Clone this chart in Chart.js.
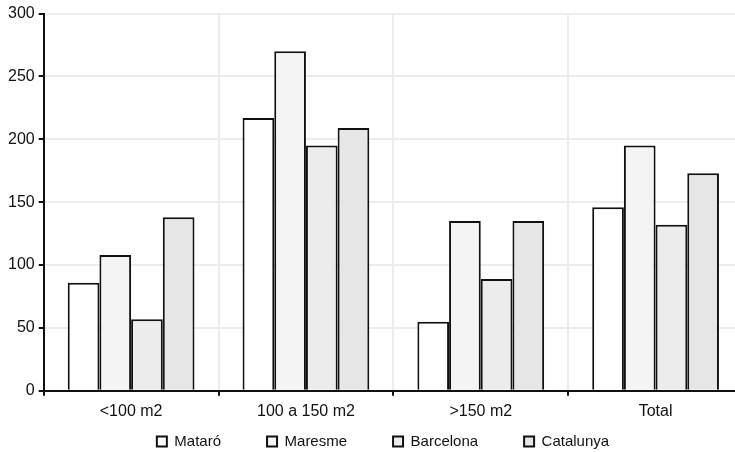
<!DOCTYPE html>
<html>
<head>
<meta charset="utf-8">
<script src="https://cdn.jsdelivr.net/npm/chart.js@4"></script>
<style>
  html, body { margin: 0; padding: 0; background: #fff; overflow: hidden; }
  #wrap { width: 735px; height: 452px; overflow: hidden; }
</style>
</head>
<body>
<div id="wrap"><canvas id="myChart" width="743" height="452"></canvas></div>
<script>
// categories and series
const categories = ['<100 m2', '100 a 150 m2', '>150 m2', 'Total'];
const mataro = [86, 217, 55, 146];
const maresme = [108, 270, 135, 195];
const barcelona = [57, 195, 89, 132];
const catalunya = [138, 209, 135, 173];
const yTicks = [0, 50, 100, 150, 200, 250, 300];

Chart.defaults.font.family = '"Liberation Sans Narrow", "Liberation Sans", Arial, sans-serif';
Chart.defaults.font.size = 16;
Chart.defaults.color = '#111';

function makeSet(label, data, fill) {
    return {
        label: label,
        data: data,
        backgroundColor: fill,
        borderColor: '#111',
        borderWidth: 2,
        borderSkipped: 'bottom'
    };
}

// keep the legend short in the layout, then place its row near the bottom
const legendSpot = {
    id: 'legendSpot',
    beforeInit(chart) {
        const legend = chart.legend;
        if (!legend) return;
        const fit = legend.fit;
        legend.fit = function () {
            fit.call(this);
            this.height = 25;
        };
    },
    beforeDraw(chart) {
        if (!chart.legend) return;
        chart.legend.top = chart.height - 64;
        chart.legend.left = 23;
    }
};

const ctx = document.getElementById('myChart').getContext('2d');
new Chart(ctx, {
    type: 'bar',
    data: {
        labels: categories,
        datasets: [
            makeSet('Mataró', mataro, '#ffffff'),
            makeSet('Maresme', maresme, '#f4f4f4'),
            makeSet('Barcelona', barcelona, '#ececec'),
            makeSet('Catalunya', catalunya, '#e6e6e6')
        ]
    },
    plugins: [legendSpot],
    options: {
        responsive: false,
        animation: false,
        layout: { padding: { top: 10, right: 0, left: 4, bottom: 0 } },
        datasets: { bar: { categoryPercentage: 0.725, barPercentage: 1.0 } },
        plugins: {
            tooltip: { enabled: false },
            legend: {
                position: 'bottom',
                labels: {
                    boxWidth: 10,
                    boxHeight: 10,
                    padding: 46,
                    font: { size: 15 },
                    color: '#111'
                }
            }
        },
        scales: {
            x: {
                grid: { color: '#ececec', lineWidth: 2, tickColor: '#111', tickLength: 5 },
                border: { color: '#111', width: 2 },
                ticks: { padding: 6 }
            },
            y: {
                min: 0,
                max: 300,
                afterBuildTicks: axis => { axis.ticks = yTicks.map(v => ({ value: v })); },
                grid: { color: '#ececec', lineWidth: 2, tickColor: '#111', tickLength: 5 },
                border: { color: '#111', width: 2 },
                ticks: { padding: 4 }
            }
        }
    }
});
</script>
</body>
</html>
